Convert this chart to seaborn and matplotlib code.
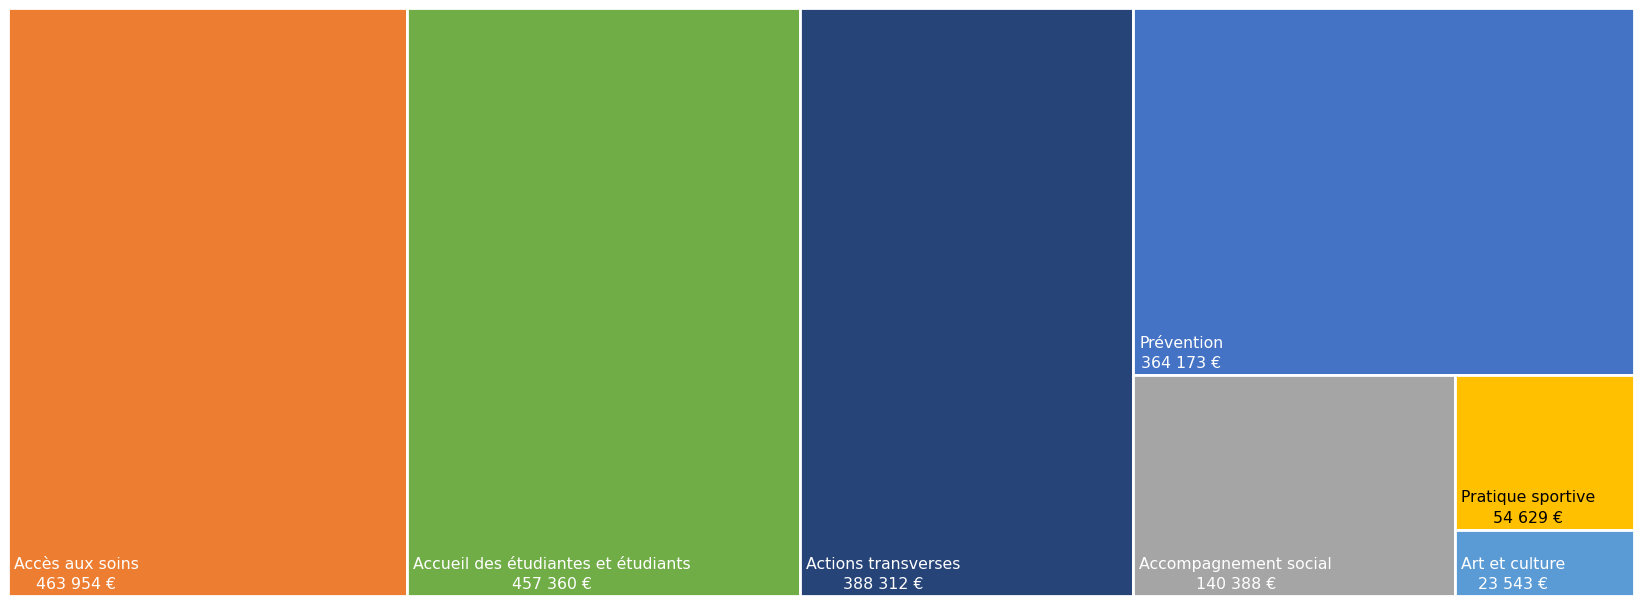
import matplotlib
matplotlib.use("Agg")
import matplotlib.pyplot as plt
from matplotlib.patches import Rectangle
import seaborn as sns

# Data
categories = ["Accès aux soins", "Accueil des étudiantes et étudiants", "Actions transverses",
              "Prévention", "Accompagnement social", "Pratique sportive", "Art et culture"]
values = [463954, 457360, 388312, 364173, 140388, 54629, 23543]
value_labels = ["463 954 €", "457 360 €", "388 312 €", "364 173 €", "140 388 €", "54 629 €", "23 543 €"]
colors = ["#ED7D31", "#70AD47", "#264478", "#4472C4", "#A5A5A5", "#FFC000", "#5B9BD5"]
text_colors = ["white", "white", "white", "white", "white", "black", "white"]

# cut direction for each item: 'v' = take a column from the left, 'h' = take a row from the top
cuts = ["v", "v", "v", "h", "v", "h", "h"]

sns.set_style("white")
plt.rcParams["font.family"] = ["DejaVu Sans"]

W, H = 1642, 605
fig = plt.figure(figsize=(W / 100, H / 100), dpi=100)
ax = fig.add_axes([8 / W, 9 / H, 1626 / W, 588 / H])
ax.set_xlim(0, 1)
ax.set_ylim(0, 1)
ax.axis("off")

# slice the remaining rectangle item by item
x, y, w, h = 0.0, 0.0, 1.0, 1.0
remaining = float(sum(values))
for i, (val, cut) in enumerate(zip(values, cuts)):
    frac = val / remaining
    if cut == "v":
        rect = (x, y, w * frac, h)
        x, w = x + w * frac, w * (1 - frac)
    else:
        rect = (x, y + h * (1 - frac), w, h * frac)
        h = h * (1 - frac)
    remaining -= val
    rx, ry, rw, rh = rect
    ax.add_patch(Rectangle((rx, ry), rw, rh, facecolor=colors[i], edgecolor="white", linewidth=2))
    ax.annotate(f"{categories[i]}\n{value_labels[i]}", xy=(rx, ry), xycoords="data",
                xytext=(6, 4), textcoords="offset pixels", ha="left", va="bottom",
                multialignment="center", color=text_colors[i], fontsize=11.3, linespacing=1.45)

fig.savefig("out.png", dpi=100, facecolor="white")
